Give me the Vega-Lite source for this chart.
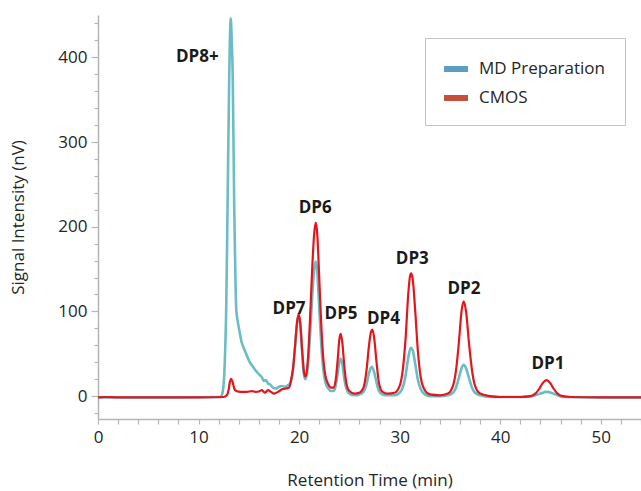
{
  "$schema": "https://vega.github.io/schema/vega-lite/v6.json",
  "width": 543,
  "height": 404,
  "autosize": {"type": "none"},
  "padding": {"left": 98, "top": 15, "right": 0, "bottom": 72},
  "background": "white",
  "config": {
    "view": {"stroke": null},
    "font": "Open Sans",
    "axis": {
      "labelFont": "Open Sans",
      "titleFont": "Open Sans",
      "labelFontSize": 17,
      "titleFontSize": 17,
      "titleFontWeight": "normal",
      "labelColor": "#262626",
      "titleColor": "#262626",
      "domainColor": "#b5b5b5",
      "domainWidth": 1.5,
      "tickColor": "#b5b5b5",
      "tickWidth": 1.2,
      "grid": false,
      "labelOverlap": false,
      "labelBound": false
    }
  },
  "datasets": {
    "chrom": [
      {"t": 0, "v": -1.5, "series": "MD Preparation"},
      {"t": 4, "v": -1.5, "series": "MD Preparation"},
      {"t": 8, "v": -1.5, "series": "MD Preparation"},
      {"t": 12.2, "v": -1, "series": "MD Preparation"},
      {"t": 12.4, "v": 5, "series": "MD Preparation"},
      {"t": 12.55, "v": 24, "series": "MD Preparation"},
      {"t": 12.65, "v": 55, "series": "MD Preparation"},
      {"t": 12.75, "v": 102, "series": "MD Preparation"},
      {"t": 12.88, "v": 220, "series": "MD Preparation"},
      {"t": 13.05, "v": 377, "series": "MD Preparation"},
      {"t": 13.2, "v": 446, "series": "MD Preparation"},
      {"t": 13.3, "v": 420, "series": "MD Preparation"},
      {"t": 13.4, "v": 377, "series": "MD Preparation"},
      {"t": 13.55, "v": 220, "series": "MD Preparation"},
      {"t": 13.65, "v": 150, "series": "MD Preparation"},
      {"t": 13.75, "v": 102, "series": "MD Preparation"},
      {"t": 13.9, "v": 88, "series": "MD Preparation"},
      {"t": 14.05, "v": 78, "series": "MD Preparation"},
      {"t": 14.3, "v": 63, "series": "MD Preparation"},
      {"t": 14.6, "v": 54, "series": "MD Preparation"},
      {"t": 15.1, "v": 40, "series": "MD Preparation"},
      {"t": 15.4, "v": 35, "series": "MD Preparation"},
      {"t": 15.7, "v": 30, "series": "MD Preparation"},
      {"t": 16.0, "v": 26, "series": "MD Preparation"},
      {"t": 16.3, "v": 22, "series": "MD Preparation"},
      {"t": 16.5, "v": 18, "series": "MD Preparation"},
      {"t": 16.7, "v": 19, "series": "MD Preparation"},
      {"t": 16.9, "v": 15, "series": "MD Preparation"},
      {"t": 17.1, "v": 14, "series": "MD Preparation"},
      {"t": 17.4, "v": 10, "series": "MD Preparation"},
      {"t": 17.7, "v": 9, "series": "MD Preparation"},
      {"t": 18.0, "v": 11, "series": "MD Preparation"},
      {"t": 18.3, "v": 12, "series": "MD Preparation"},
      {"t": 18.6, "v": 11, "series": "MD Preparation"},
      {"t": 18.9, "v": 13, "series": "MD Preparation"},
      {"t": 19.1, "v": 15, "series": "MD Preparation"},
      {"t": 19.2, "v": 18, "series": "MD Preparation"},
      {"t": 19.4, "v": 32, "series": "MD Preparation"},
      {"t": 19.6, "v": 58, "series": "MD Preparation"},
      {"t": 19.8, "v": 86, "series": "MD Preparation"},
      {"t": 19.95, "v": 95, "series": "MD Preparation"},
      {"t": 20.1, "v": 86, "series": "MD Preparation"},
      {"t": 20.3, "v": 52, "series": "MD Preparation"},
      {"t": 20.45, "v": 28, "series": "MD Preparation"},
      {"t": 20.6, "v": 20, "series": "MD Preparation"},
      {"t": 20.75, "v": 24, "series": "MD Preparation"},
      {"t": 20.9, "v": 40, "series": "MD Preparation"},
      {"t": 21.1, "v": 75, "series": "MD Preparation"},
      {"t": 21.3, "v": 118, "series": "MD Preparation"},
      {"t": 21.5, "v": 150, "series": "MD Preparation"},
      {"t": 21.66, "v": 159, "series": "MD Preparation"},
      {"t": 21.8, "v": 148, "series": "MD Preparation"},
      {"t": 22.0, "v": 105, "series": "MD Preparation"},
      {"t": 22.2, "v": 62, "series": "MD Preparation"},
      {"t": 22.4, "v": 32, "series": "MD Preparation"},
      {"t": 22.6, "v": 17, "series": "MD Preparation"},
      {"t": 22.9, "v": 9, "series": "MD Preparation"},
      {"t": 23.2, "v": 6, "series": "MD Preparation"},
      {"t": 23.45, "v": 6, "series": "MD Preparation"},
      {"t": 23.65, "v": 13, "series": "MD Preparation"},
      {"t": 23.85, "v": 28, "series": "MD Preparation"},
      {"t": 24.0, "v": 40, "series": "MD Preparation"},
      {"t": 24.14, "v": 44, "series": "MD Preparation"},
      {"t": 24.3, "v": 38, "series": "MD Preparation"},
      {"t": 24.5, "v": 20, "series": "MD Preparation"},
      {"t": 24.7, "v": 9, "series": "MD Preparation"},
      {"t": 25.0, "v": 3, "series": "MD Preparation"},
      {"t": 25.5, "v": 1, "series": "MD Preparation"},
      {"t": 26.0, "v": 2, "series": "MD Preparation"},
      {"t": 26.4, "v": 5, "series": "MD Preparation"},
      {"t": 26.7, "v": 14, "series": "MD Preparation"},
      {"t": 26.95, "v": 27, "series": "MD Preparation"},
      {"t": 27.2, "v": 34.6, "series": "MD Preparation"},
      {"t": 27.45, "v": 29, "series": "MD Preparation"},
      {"t": 27.7, "v": 16, "series": "MD Preparation"},
      {"t": 27.95, "v": 6, "series": "MD Preparation"},
      {"t": 28.3, "v": 2, "series": "MD Preparation"},
      {"t": 28.8, "v": 1, "series": "MD Preparation"},
      {"t": 29.5, "v": 1, "series": "MD Preparation"},
      {"t": 30.0, "v": 4, "series": "MD Preparation"},
      {"t": 30.3, "v": 10, "series": "MD Preparation"},
      {"t": 30.6, "v": 25, "series": "MD Preparation"},
      {"t": 30.85, "v": 45, "series": "MD Preparation"},
      {"t": 31.1, "v": 57, "series": "MD Preparation"},
      {"t": 31.3, "v": 54, "series": "MD Preparation"},
      {"t": 31.55, "v": 38, "series": "MD Preparation"},
      {"t": 31.8, "v": 20, "series": "MD Preparation"},
      {"t": 32.1, "v": 8, "series": "MD Preparation"},
      {"t": 32.5, "v": 2, "series": "MD Preparation"},
      {"t": 33.0, "v": 0, "series": "MD Preparation"},
      {"t": 34.0, "v": 0, "series": "MD Preparation"},
      {"t": 34.8, "v": 1, "series": "MD Preparation"},
      {"t": 35.3, "v": 4, "series": "MD Preparation"},
      {"t": 35.6, "v": 10, "series": "MD Preparation"},
      {"t": 35.9, "v": 22, "series": "MD Preparation"},
      {"t": 36.15, "v": 33, "series": "MD Preparation"},
      {"t": 36.37, "v": 37, "series": "MD Preparation"},
      {"t": 36.6, "v": 33, "series": "MD Preparation"},
      {"t": 36.9, "v": 21, "series": "MD Preparation"},
      {"t": 37.2, "v": 10, "series": "MD Preparation"},
      {"t": 37.5, "v": 4, "series": "MD Preparation"},
      {"t": 38.0, "v": 1, "series": "MD Preparation"},
      {"t": 39.0, "v": -1, "series": "MD Preparation"},
      {"t": 42.0, "v": -1, "series": "MD Preparation"},
      {"t": 43.0, "v": -0.5, "series": "MD Preparation"},
      {"t": 43.5, "v": 1, "series": "MD Preparation"},
      {"t": 44.0, "v": 3, "series": "MD Preparation"},
      {"t": 44.6, "v": 5, "series": "MD Preparation"},
      {"t": 45.2, "v": 3.5, "series": "MD Preparation"},
      {"t": 45.7, "v": 1, "series": "MD Preparation"},
      {"t": 46.2, "v": -1, "series": "MD Preparation"},
      {"t": 50.0, "v": -1.5, "series": "MD Preparation"},
      {"t": 54.0, "v": -1.5, "series": "MD Preparation"},
      {"t": 0, "v": -1.5, "series": "CMOS"},
      {"t": 0.8, "v": -1, "series": "CMOS"},
      {"t": 2, "v": -1.5, "series": "CMOS"},
      {"t": 6, "v": -1.5, "series": "CMOS"},
      {"t": 10, "v": -1.5, "series": "CMOS"},
      {"t": 12.5, "v": -1, "series": "CMOS"},
      {"t": 12.8, "v": 1, "series": "CMOS"},
      {"t": 13.0, "v": 8, "series": "CMOS"},
      {"t": 13.1, "v": 16, "series": "CMOS"},
      {"t": 13.25, "v": 20.5, "series": "CMOS"},
      {"t": 13.4, "v": 16, "series": "CMOS"},
      {"t": 13.55, "v": 9, "series": "CMOS"},
      {"t": 13.75, "v": 6, "series": "CMOS"},
      {"t": 14.2, "v": 5, "series": "CMOS"},
      {"t": 14.8, "v": 5, "series": "CMOS"},
      {"t": 15.3, "v": 6, "series": "CMOS"},
      {"t": 15.7, "v": 5, "series": "CMOS"},
      {"t": 16.0, "v": 5.5, "series": "CMOS"},
      {"t": 16.3, "v": 7, "series": "CMOS"},
      {"t": 16.6, "v": 4, "series": "CMOS"},
      {"t": 16.9, "v": 7, "series": "CMOS"},
      {"t": 17.2, "v": 5, "series": "CMOS"},
      {"t": 17.5, "v": 3, "series": "CMOS"},
      {"t": 17.9, "v": 5, "series": "CMOS"},
      {"t": 18.3, "v": 8, "series": "CMOS"},
      {"t": 18.7, "v": 9, "series": "CMOS"},
      {"t": 19.0, "v": 10, "series": "CMOS"},
      {"t": 19.2, "v": 19, "series": "CMOS"},
      {"t": 19.4, "v": 33, "series": "CMOS"},
      {"t": 19.6, "v": 60, "series": "CMOS"},
      {"t": 19.8, "v": 88, "series": "CMOS"},
      {"t": 19.95, "v": 97, "series": "CMOS"},
      {"t": 20.1, "v": 88, "series": "CMOS"},
      {"t": 20.3, "v": 55, "series": "CMOS"},
      {"t": 20.45, "v": 32, "series": "CMOS"},
      {"t": 20.6, "v": 23, "series": "CMOS"},
      {"t": 20.75, "v": 28, "series": "CMOS"},
      {"t": 20.9, "v": 48, "series": "CMOS"},
      {"t": 21.1, "v": 95, "series": "CMOS"},
      {"t": 21.3, "v": 150, "series": "CMOS"},
      {"t": 21.5, "v": 192, "series": "CMOS"},
      {"t": 21.66, "v": 205, "series": "CMOS"},
      {"t": 21.8, "v": 192, "series": "CMOS"},
      {"t": 22.0, "v": 140, "series": "CMOS"},
      {"t": 22.2, "v": 85, "series": "CMOS"},
      {"t": 22.4, "v": 45, "series": "CMOS"},
      {"t": 22.6, "v": 25, "series": "CMOS"},
      {"t": 22.9, "v": 14, "series": "CMOS"},
      {"t": 23.2, "v": 10, "series": "CMOS"},
      {"t": 23.45, "v": 10, "series": "CMOS"},
      {"t": 23.65, "v": 20, "series": "CMOS"},
      {"t": 23.85, "v": 45, "series": "CMOS"},
      {"t": 24.0, "v": 67, "series": "CMOS"},
      {"t": 24.14, "v": 73.5, "series": "CMOS"},
      {"t": 24.3, "v": 63, "series": "CMOS"},
      {"t": 24.5, "v": 35, "series": "CMOS"},
      {"t": 24.7, "v": 15, "series": "CMOS"},
      {"t": 25.0, "v": 6, "series": "CMOS"},
      {"t": 25.5, "v": 3, "series": "CMOS"},
      {"t": 26.0, "v": 4, "series": "CMOS"},
      {"t": 26.4, "v": 10, "series": "CMOS"},
      {"t": 26.7, "v": 30, "series": "CMOS"},
      {"t": 26.95, "v": 60, "series": "CMOS"},
      {"t": 27.15, "v": 76, "series": "CMOS"},
      {"t": 27.28, "v": 78.5, "series": "CMOS"},
      {"t": 27.45, "v": 70, "series": "CMOS"},
      {"t": 27.7, "v": 40, "series": "CMOS"},
      {"t": 27.95, "v": 15, "series": "CMOS"},
      {"t": 28.3, "v": 5, "series": "CMOS"},
      {"t": 28.8, "v": 3, "series": "CMOS"},
      {"t": 29.5, "v": 4, "series": "CMOS"},
      {"t": 30.0, "v": 12, "series": "CMOS"},
      {"t": 30.3, "v": 30, "series": "CMOS"},
      {"t": 30.6, "v": 70, "series": "CMOS"},
      {"t": 30.85, "v": 120, "series": "CMOS"},
      {"t": 31.05, "v": 143, "series": "CMOS"},
      {"t": 31.15, "v": 145, "series": "CMOS"},
      {"t": 31.3, "v": 138, "series": "CMOS"},
      {"t": 31.55, "v": 100, "series": "CMOS"},
      {"t": 31.8, "v": 55, "series": "CMOS"},
      {"t": 32.1, "v": 22, "series": "CMOS"},
      {"t": 32.5, "v": 7, "series": "CMOS"},
      {"t": 33.0, "v": 2, "series": "CMOS"},
      {"t": 34.0, "v": 1, "series": "CMOS"},
      {"t": 34.8, "v": 3, "series": "CMOS"},
      {"t": 35.3, "v": 12, "series": "CMOS"},
      {"t": 35.6, "v": 30, "series": "CMOS"},
      {"t": 35.9, "v": 65, "series": "CMOS"},
      {"t": 36.15, "v": 100, "series": "CMOS"},
      {"t": 36.37, "v": 112, "series": "CMOS"},
      {"t": 36.6, "v": 100, "series": "CMOS"},
      {"t": 36.9, "v": 62, "series": "CMOS"},
      {"t": 37.2, "v": 30, "series": "CMOS"},
      {"t": 37.5, "v": 12, "series": "CMOS"},
      {"t": 38.0, "v": 3, "series": "CMOS"},
      {"t": 39.0, "v": 0, "series": "CMOS"},
      {"t": 40.0, "v": -1, "series": "CMOS"},
      {"t": 42.0, "v": -1, "series": "CMOS"},
      {"t": 43.0, "v": 0, "series": "CMOS"},
      {"t": 43.5, "v": 3, "series": "CMOS"},
      {"t": 43.9, "v": 9, "series": "CMOS"},
      {"t": 44.2, "v": 15, "series": "CMOS"},
      {"t": 44.6, "v": 19, "series": "CMOS"},
      {"t": 45.0, "v": 15, "series": "CMOS"},
      {"t": 45.3, "v": 9, "series": "CMOS"},
      {"t": 45.7, "v": 3, "series": "CMOS"},
      {"t": 46.2, "v": 0, "series": "CMOS"},
      {"t": 47.0, "v": -1, "series": "CMOS"},
      {"t": 50.0, "v": -1.5, "series": "CMOS"},
      {"t": 54.0, "v": -1.5, "series": "CMOS"}
    ],
    "labels": [
      {"t": 9.87, "v": 401, "label": "DP8+"},
      {"t": 19.0, "v": 103.3, "label": "DP7"},
      {"t": 21.6, "v": 221.6, "label": "DP6"},
      {"t": 24.17, "v": 97.4, "label": "DP5"},
      {"t": 28.39, "v": 90.6, "label": "DP4"},
      {"t": 31.26, "v": 161.7, "label": "DP3"},
      {"t": 36.39, "v": 126, "label": "DP2"},
      {"t": 44.74, "v": 37.4, "label": "DP1"}
    ],
    "keys": [
      {"series": "MD Preparation"},
      {"series": "CMOS"}
    ]
  },
  "layer": [
    {
      "data": {"name": "chrom"},
      "transform": [{"filter": "datum.series === 'MD Preparation'"}],
      "mark": {"type": "line", "color": "#6bbdc5", "strokeWidth": 2.6, "interpolate": "monotone", "clip": true},
      "encoding": {
        "x": {
          "field": "t", "type": "quantitative",
          "scale": {"domain": [0, 54], "nice": false, "zero": false},
          "axis": {
            "title": "Retention Time (min)",
            "values": [0, 2, 4, 6, 8, 10, 12, 14, 16, 18, 20, 22, 24, 26, 28, 30, 32, 34, 36, 38, 40, 42, 44, 46, 48, 50, 52, 54],
            "tickCount": 200,
            "format": "d",
            "labelExpr": "datum.value % 10 === 0 ? datum.label : ''",
            "labelOverlap": false,
            "labelBound": false,
            "labelFlush": false,
            "tickSize": 5,
            "labelPadding": 5,
            "titlePadding": 27
          }
        },
        "y": {
          "field": "v", "type": "quantitative",
          "scale": {"domain": [-27, 450], "nice": false, "zero": false},
          "axis": {
            "title": "Signal Intensity (nV)",
            "values": [-20, 0, 20, 40, 60, 80, 100, 120, 140, 160, 180, 200, 220, 240, 260, 280, 300, 320, 340, 360, 380, 400, 420, 440],
            "tickCount": 200,
            "format": "d",
            "labelExpr": "datum.value % 100 === 0 ? datum.label : ''",
            "labelOverlap": false,
            "labelBound": false,
            "labelFlush": false,
            "tickSize": {"condition": {"test": "datum.value % 100 === 0", "value": 7}, "value": 4},
            "labelPadding": 4,
            "titlePadding": 30
          }
        }
      }
    },
    {
      "data": {"name": "chrom"},
      "transform": [{"filter": "datum.series === 'CMOS'"}],
      "mark": {"type": "line", "color": "#e3161e", "strokeWidth": 2.2, "interpolate": "monotone", "clip": true},
      "encoding": {
        "x": {"field": "t", "type": "quantitative"},
        "y": {"field": "v", "type": "quantitative"}
      }
    },
    {
      "data": {"name": "labels"},
      "mark": {"type": "text", "font": "Open Sans", "fontWeight": "bold", "fontSize": 17, "color": "#1a1a1a", "align": "center", "baseline": "middle"},
      "encoding": {
        "x": {"field": "t", "type": "quantitative"},
        "y": {"field": "v", "type": "quantitative"},
        "text": {"field": "label"}
      }
    },
    {
      "data": {"name": "keys"},
      "mark": {"type": "text", "text": ""},
      "encoding": {
        "color": {
          "field": "series", "type": "nominal",
          "scale": {"domain": ["MD Preparation", "CMOS"], "range": ["#5b9ec1", "#c44f3b"]},
          "legend": {
            "title": null,
            "orient": "none",
            "legendX": 327,
            "legendY": 23,
            "padding": 19,
            "strokeColor": "#c4c4c4",
            "fillColor": "white",
            "symbolType": "M-1,-0.25H1V0.25H-1Z",
            "symbolSize": 576,
            "symbolStrokeWidth": 0,
            "symbolOpacity": 1,
            "labelFont": "Open Sans",
            "labelFontSize": 17,
            "labelColor": "#262626",
            "labelOffset": 11,
            "rowPadding": 9
          }
        }
      }
    }
  ]
}
